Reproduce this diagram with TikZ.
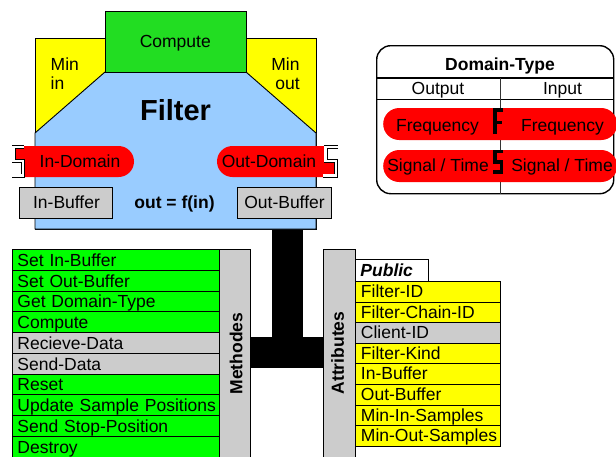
\documentclass[tikz,border=0pt]{standalone}
\usepackage{fontspec}
\setmainfont{Liberation Sans}
\usetikzlibrary{shapes.misc,calc}

\definecolor{listgreen}{RGB}{0,255,0}
\definecolor{compgreen}{RGB}{34,221,34}
\definecolor{fyellow}{RGB}{255,255,0}
\definecolor{fblue}{RGB}{153,204,255}
\definecolor{fred}{RGB}{255,0,0}
\definecolor{fgray}{RGB}{204,204,204}

\tikzset{
  txt/.style={font=\fontsize{17.5}{20}\selectfont, inner sep=0pt, anchor=base},
  btxt/.style={font=\fontsize{17.5}{20}\selectfont\bfseries, inner sep=0pt, anchor=base},
  frame/.style={draw=black, line width=0.9pt},
  box/.style={frame, inner sep=0pt, anchor=north west},
  pill/.style={rounded rectangle, fill=fred, inner sep=0pt, minimum height=31pt},
  listrow/.style={frame, anchor=north west, minimum height=20.75pt,
    text width=197pt, inner xsep=5pt, inner ysep=0pt, align=left,
    text height=15pt, text depth=2pt, font=\fontsize{17.5}{20}\selectfont},
  attrrow/.style={frame, anchor=north west, minimum height=20.6pt,
    text width=134pt, inner xsep=5.5pt, inner ysep=0pt, align=left,
    text height=14.2pt, text depth=2.8pt, font=\fontsize{17.5}{20}\selectfont},
  plug/.style={draw=black, line width=0.8pt, double=white, double distance=2.4pt,
    line join=miter},
  key/.style={draw=black, line width=3.5pt, line cap=butt, line join=miter},
  bar/.style={line width=31pt, draw=black, line cap=butt},
}

\begin{document}
\begin{tikzpicture}[x=1pt, y=-1pt]
\useasboundingbox (0,0) rectangle (616,456);
\clip (0,0) rectangle (616,456);

% ---------- filter block ----------
\node[box, fill=fyellow, minimum width=281pt, minimum height=191pt] (filter) at (35,38) {};
\filldraw[fill=fblue, frame] (105,72) -- (246,72) -- (316,133) -- (316,229)
  -- (35,229) -- (35,133) -- cycle;
\node[box, fill=compgreen, minimum width=141pt, minimum height=61pt] (compute) at (105,11) {};
\node[txt] (computelbl) at (175.3,47) {Compute};
\node[txt, anchor=base west] (minin1) at (50.5,70) {Min};
\node[txt, anchor=base west] (minin2) at (50.5,89) {in};
\node[txt] (minout1) at (285.5,70) {Min};
\node[txt] (minout2) at (287.5,89) {out};
\node[font=\fontsize{29}{32}\selectfont\bfseries, inner sep=0pt, anchor=base] (ftitle) at (175.5,120) {Filter};
\node[btxt] (fexpr) at (174.5,208) {out = f(in)};

% domain plugs
\node[pill, rounded rectangle left arc=none, minimum width=110pt] (indom) at (79,161.5) {};
\fill[fred] (14,147) rectangle (25,161);
\node[txt] (indomlbl) at (80,167.5) {In-Domain};
\draw[plug] (24,147) -- (13.5,147) -- (13.5,161) -- (23,161) -- (23,175.5) -- (12,175.5);

\node[pill, rounded rectangle right arc=none, minimum width=108pt] (outdom) at (271,161.5) {};
\fill[fred] (324,161) rectangle (335,177);
\node[txt] (outdomlbl) at (269,167.5) {Out-Domain};
\draw[plug] (338,147) -- (325.5,147) -- (325.5,161) -- (336,161) -- (336,175.5) -- (323,175.5);

% buffers
\node[frame, fill=fgray, minimum width=93pt, minimum height=31pt, inner sep=0pt] (inbuf) at (65.5,202.5) {};
\node[txt] (inbuflbl) at (66.5,208) {In-Buffer};
\node[frame, fill=fgray, minimum width=94pt, minimum height=31pt, inner sep=0pt] (outbuf) at (284,202.5) {};
\node[txt] (outbuflbl) at (284.5,208) {Out-Buffer};

% ---------- domain type legend ----------
\node[box, rounded corners=14pt, line width=1.4pt, minimum width=237pt, minimum height=148pt] (dt) at (376,45) {};
\node[btxt] (dttitle) at (500,70.5) {Domain-Type};
\draw[line width=1.3pt] (dt.west |- 0,78) -- (dt.east |- 0,78);
\draw[line width=0.8pt] (dt.west |- 0,99) -- (dt.east |- 0,99);
\draw[line width=0.8pt, draw=black!80] (500,78) -- (dt.south -| 500,0);
\node[txt] (outhead) at (438,94.3) {Output};
\node[txt] (inhead) at (562.5,94.3) {Input};

\node[pill, minimum width=234pt, minimum height=32pt, anchor=west] (freq) at (383,124) {};
\node[pill, minimum width=234pt, minimum height=32pt, anchor=west] (sig) at (383,166) {};
\node[txt] (freqout) at (437.5,131.7) {Frequency};
\node[txt] (freqin) at (562.5,131.7) {Frequency};
\node[txt] (sigout) at (438,171.7) {Signal / Time};
\node[txt] (sigin) at (562,171.7) {Signal / Time};
\draw[key] (503,109.75) -- (495,109.75) -- (495,134);
\draw[key] (495,122.5) -- (502,122.5);
\draw[key] (503,151.5) -- (495,151.5) -- (495,162) -- (501.5,162) -- (501.5,172) -- (493,172);

% ---------- methods and attributes ----------
\coordinate (j) at (287.5,352.5);
\node[box, minimum width=31pt, minimum height=230pt] (methods) at (219,249) {};
\node[box, minimum width=32pt, minimum height=230pt] (attrs) at (323,249) {};
\draw[bar] (filter.south -| j) -- ($(j)+(0,15.5)$);
\draw[bar] (methods.east |- j) -- (attrs.west |- j);
\node[box, fill=fgray, minimum width=31pt, minimum height=230pt] at (methods.north west) {};
\node[box, fill=fgray, minimum width=32pt, minimum height=230pt] at (attrs.north west) {};
\node[btxt, rotate=90, anchor=center] (methlbl) at (236,353.5) {Methodes};
\node[btxt, rotate=90, anchor=center] (attrlbl) at (337.5,353) {Attributes};

\foreach \c/\t [count=\i] in {listgreen/Set In-Buffer, listgreen/Set Out-Buffer,
  listgreen/Get Domain-Type, listgreen/Compute, fgray/Recieve-Data, fgray/Send-Data,
  listgreen/Reset, listgreen/Update Sample Positions, listgreen/Send Stop-Position,
  listgreen/Destroy}
  \node[listrow, fill=\c] (m\i) at (12,{249+20.75*(\i-1)}) {\mbox{\t}};

\node[frame, fill=white, anchor=north west, minimum height=22pt, text width=63pt,
  inner xsep=5pt, inner ysep=0pt, align=left, text height=15.5pt, text depth=2.5pt,
  font=\fontsize{17.5}{20}\selectfont\bfseries\itshape] (public) at (355,259) {Public};

\foreach \c/\t [count=\i] in {fyellow/Filter-ID, fyellow/Filter-Chain-ID, fgray/Client-ID,
  fyellow/Filter-Kind, fyellow/In-Buffer, fyellow/Out-Buffer, fyellow/Min-In-Samples,
  fyellow/Min-Out-Samples}
  \node[attrrow, fill=\c] (a\i) at (355,{281+20.6*(\i-1)}) {\mbox{\t}};
\end{tikzpicture}
\end{document}
